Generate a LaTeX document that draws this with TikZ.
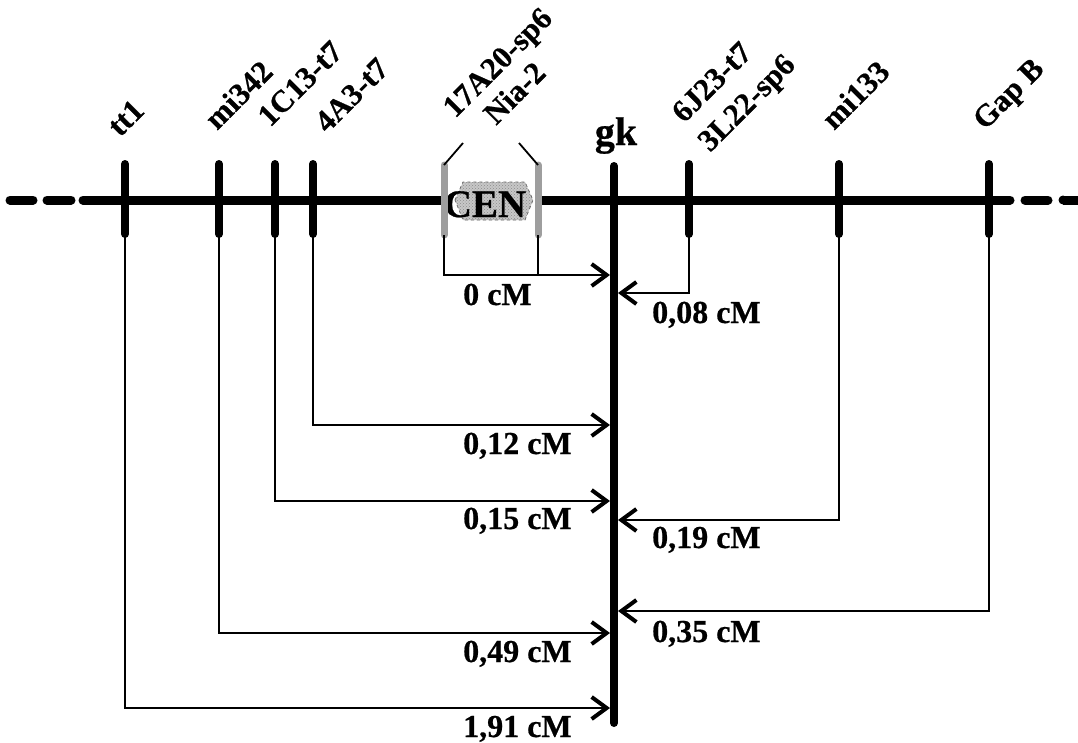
\documentclass[tikz,border=0pt]{standalone}
\usepackage{fontspec}
\setmainfont{Liberation Serif}[BoldFeatures={FakeBold=0.6}]
\usetikzlibrary{arrows.meta,patterns}
\begin{document}
\begin{tikzpicture}[x=1pt,y=-1pt,
  mk/.style={rotate=45, anchor=base west, inner sep=0pt, font=\bfseries\fontsize{31}{34}\selectfont},
  dist/.style={anchor=base west, inner sep=0pt, font=\bfseries\fontsize{32}{34}\selectfont},
  chrom/.style={line width=9pt, line cap=round},
  tickline/.style={line width=8pt, line cap=round},
  cenbar/.style={line width=7pt, draw=black!38, line cap=round},
  thinline/.style={line width=1.8pt},
  conn/.style={line width=1.8pt, -{Straight Barb[length=15pt,width=22pt,line width=4pt]}},
]
\useasboundingbox (0,0) rectangle (1078,742);

% chromosome line
\draw[chrom] (10,200) -- (33,200);
\draw[chrom] (47,200) -- (71,200);
\draw[chrom] (83,200) -- (441,200);
\draw[chrom] (541,200) -- (1010,200);
\draw[chrom] (1025,200) -- (1048,200);
\draw[line width=9pt] (1063,200) -- (1078,200);
\fill (1063,200) circle (4.5pt);

% centromere
\draw[draw=black!60, dashed, line width=0.8pt, fill=black!22]
  (455,200) -- (463,182) -- (525,182) -- (533,200) -- (525,220) -- (463,220) -- cycle;
\fill[pattern=crosshatch dots, pattern color=black!45]
  (455,200) -- (463,182) -- (525,182) -- (533,200) -- (525,220) -- (463,220) -- cycle;
\node[anchor=base, inner sep=0pt, font=\bfseries\fontsize{39}{42}\selectfont] (cen) at (485,217) {CEN};

% marker ticks (top/bottom coordinates)
\foreach \n/\x in {tt/125, mi/219, c13/275, a3/313, j23/689, m133/839, gap/989}{
  \coordinate (\n t) at (\x,164);
  \coordinate (\n b) at (\x,234);
  \draw[tickline] (\n t) -- (\n b);
}
\coordinate (cenlt) at (444,165);
\coordinate (cenlb) at (444,235);
\coordinate (cenrt) at (538,165);
\coordinate (cenrb) at (538,235);
\draw[cenbar] (cenlt) -- (cenlb);
\draw[cenbar] (cenrt) -- (cenrb);
\coordinate (cenld) at (463,143);
\coordinate (cenrd) at (519,143);
\draw[thinline] (cenlt) -- (cenld);
\draw[thinline] (cenrt) -- (cenrd);

% gk line
\coordinate (gkt) at (614,166);
\coordinate (gkb) at (614,723);
\draw[tickline] (gkt) -- (gkb);
\node[anchor=base, inner sep=0pt, font=\bfseries\fontsize{40}{42}\selectfont] (gk) at (616,145) {gk};

% marker labels
\node[mk] (ltt) at (120,138) {tt1};
\node[mk] (lmi) at (217,131) {mi342};
\node[mk] (lc13) at (270,128) {1C13-t7};
\node[mk] (la3) at (327,134) {4A3-t7};
\node[mk] (l17) at (455,119) {17A20-sp6};
\node[mk] (lnia) at (496,126) {Nia-2};
\node[mk] (lj23) at (684,124) {6J23-t7};
\node[mk] (ll22) at (710,153) {3L22-sp6};
\node[mk] (lm133) at (834,131) {mi133};
\node[mk] (lgap) at (985,131) {Gap B};

% arrow targets on gk
\coordinate (g0) at (610,275);
\coordinate (g08) at (618,293);
\coordinate (g12) at (610,425);
\coordinate (g15) at (610,501);
\coordinate (g19) at (618,520);
\coordinate (g35) at (618,611);
\coordinate (g49) at (610,633);
\coordinate (g191) at (610,708);

% connectors
\draw[thinline] (cenrb) -- (cenrb |- g0);
\draw[conn] (cenlb) |- (g0);
\draw[conn] (j23b) |- (g08);
\draw[conn] (a3b) |- (g12);
\draw[conn] (c13b) |- (g15);
\draw[conn] (m133b) |- (g19);
\draw[conn] (gapb) |- (g35);
\draw[conn] (mib) |- (g49);
\draw[conn] (ttb) |- (g191);

% distance labels
\node[dist] (d0) at (463,305) {0 cM};
\node[dist] (d08) at (652,323) {0,08 cM};
\node[dist] (d12) at (463,454) {0,12 cM};
\node[dist] (d15) at (463,529) {0,15 cM};
\node[dist] (d19) at (652,548) {0,19 cM};
\node[dist] (d35) at (652,642) {0,35 cM};
\node[dist] (d49) at (463,662) {0,49 cM};
\node[dist] (d191) at (463,737) {1,91 cM};
\end{tikzpicture}
\end{document}
